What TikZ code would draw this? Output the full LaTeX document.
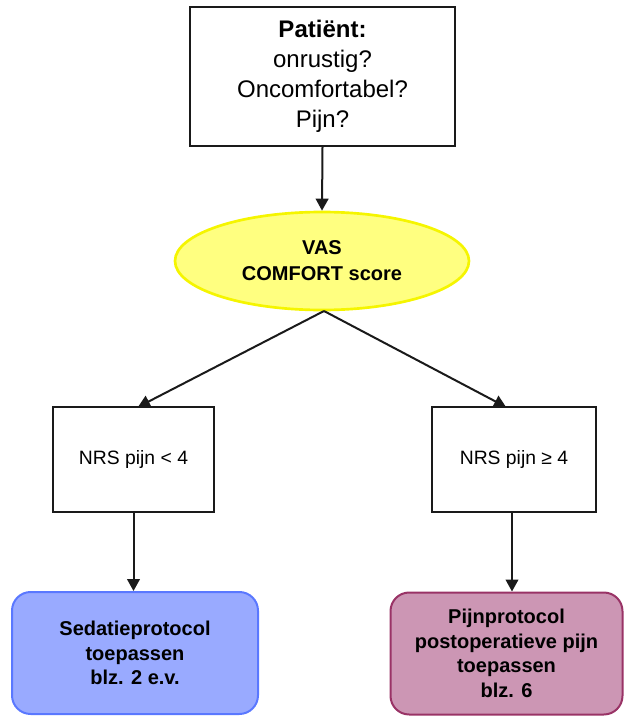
\documentclass[tikz,border=0pt]{standalone}
\usepackage{fontspec}
\setmainfont{Liberation Sans}
\usetikzlibrary{arrows.meta,shapes.geometric}
\definecolor{ellfill}{HTML}{FFFF80}
\definecolor{elldraw}{HTML}{F5F500}
\definecolor{bluefill}{HTML}{99AAFF}
\definecolor{bluedraw}{HTML}{5A78FF}
\definecolor{pinkfill}{HTML}{CC96B4}
\definecolor{pinkdraw}{HTML}{993366}
\definecolor{edge}{HTML}{1A1A1A}
\tikzset{
  sq/.style={draw=edge, line width=1.5pt, fill=white, align=center, inner sep=0pt},
  rnd/.style={rounded corners=14pt, line width=1.5pt, align=center, inner sep=0pt, font=\fontsize{15}{18.4}\selectfont\bfseries},
  conn/.style={draw=edge, line width=1.5pt, -{Triangle[length=9pt,width=9.5pt]}},
}
\begin{document}
\begin{tikzpicture}[x=0.75pt,y=-0.75pt]
\useasboundingbox (0,0) rectangle (624,717);
% top box
\node[sq, minimum width=265*0.75pt, minimum height=139*0.75pt,
      font=\fontsize{18}{22.5}\selectfont] (top) at (322.5,76.5)
  {\textbf{Patiënt:}\\onrustig?\\Oncomfortabel?\\Pijn?};
% ellipse
\node[ellipse, draw=elldraw, fill=ellfill, line width=2pt,
      minimum width=294*0.75pt, minimum height=98*0.75pt, inner sep=0pt,
      align=center, font=\fontsize{15}{19.5}\selectfont\bfseries] (vas) at (322,261)
  {VAS\\COMFORT score};
% middle boxes
\node[sq, minimum width=161*0.75pt, minimum height=105*0.75pt,
      font=\fontsize{14.5}{18}\selectfont] (lm) at (133.5,459.5) {NRS pijn < 4};
\node[sq, minimum width=164*0.75pt, minimum height=105*0.75pt,
      font=\fontsize{14.5}{18}\selectfont] (rm) at (514,459.5) {NRS pijn ≥ 4};
% bottom boxes
\node[rnd, draw=bluedraw, fill=bluefill, minimum width=246*0.75pt, minimum height=122*0.75pt]
  (bl) at (135,653) {Sedatieprotocol\\toepassen\\blz. 2 e.v.};
\node[rnd, draw=pinkdraw, fill=pinkfill, minimum width=232*0.75pt, minimum height=122*0.75pt]
  (br) at (506.5,653.5) {Pijnprotocol\\postoperatieve pijn\\toepassen\\blz. 6};
% connectors
\coordinate (split) at (324,311);
\coordinate (lmin) at (138,407);
\coordinate (rmin) at (506,407);
\draw[conn] (top.south) -- (vas.north);
\draw[conn] (split) -- (lmin);
\draw[conn] (split) -- (rmin);
\draw[conn] (lm.south) -- (lm.south |- bl.north);
\draw[conn] (rm.south -| 512,0) -- (512,0 |- br.north);
\end{tikzpicture}
\end{document}
